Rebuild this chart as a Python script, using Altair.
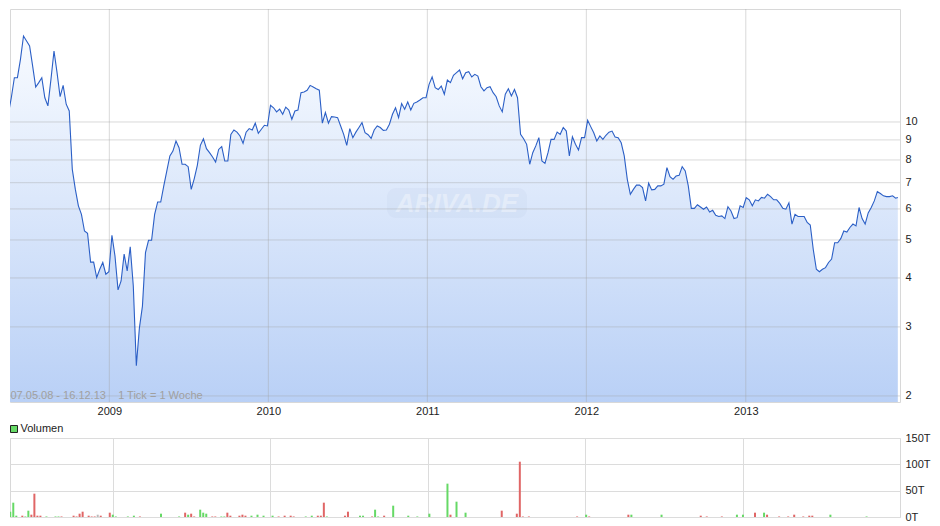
import altair as alt
import pandas as pd

# ---------------- data ----------------
prices = [
    9.39, 10.46, 11.53, 12.97, 12.97, 14.45, 16.57, 16.09, 15.63, 13.89,
    12.28, 12.60, 12.97, 11.53, 10.99, 12.84, 15.17, 13.36, 11.60, 12.40,
    11.10, 10.67, 7.57, 6.73, 6.11, 5.81, 5.27, 5.20, 4.39, 4.39,
    4.01, 4.21, 4.38, 4.09, 4.15, 5.14, 4.55, 3.73, 3.93, 4.60,
    4.17, 4.80, 3.82, 2.39, 2.98, 3.39, 4.64, 4.99, 4.99, 5.81,
    6.25, 6.25, 6.87, 7.50, 8.19, 8.43, 8.94, 8.60, 7.80, 7.80,
    7.69, 6.73, 7.17, 7.75, 8.72, 9.06, 8.55, 8.35, 8.14, 7.90,
    8.51, 8.65, 7.95,
    7.95, 9.30, 9.54, 9.42, 9.21, 8.82, 9.42, 9.62, 9.54, 9.93,
    9.36, 9.58, 9.81, 9.77, 11.03, 10.87, 10.61, 10.78, 10.46, 10.91,
    10.73, 10.16, 10.67, 10.73, 11.88, 11.93, 12.05, 12.40, 12.28, 12.15,
    12.05, 9.93, 10.57, 9.93, 10.32, 10.30, 10.26, 9.77, 9.30, 8.72,
    9.62, 9.12, 9.42, 9.68, 9.96, 9.39, 9.28, 9.08, 9.54, 9.77,
    9.68, 9.52, 9.54, 9.87, 10.46, 10.87, 10.26, 11.14, 10.78, 11.25,
    10.73, 11.16, 11.25, 11.38, 11.53, 11.53, 12.47, 13.03, 12.23, 12.10,
    12.35, 11.77, 12.79, 12.60,
    13.16, 13.36, 13.57, 12.89, 13.36, 13.44, 13.03, 13.23, 13.10, 12.30,
    12.00, 12.23, 12.30, 11.88, 11.60, 10.99, 10.61, 11.77, 12.15, 11.65,
    12.10, 11.53, 9.30, 9.06, 8.77, 7.80, 8.35, 8.69, 9.12, 7.95,
    7.84, 8.35, 9.03, 9.03, 9.42, 9.30, 9.68, 9.48, 8.19, 9.17,
    8.77, 8.48, 9.12, 9.12, 10.10, 9.73, 9.39, 8.94, 9.21, 9.03,
    9.25, 9.42, 9.48, 9.16, 9.12, 8.85, 8.19, 7.14, 6.54, 6.73,
    6.90, 6.90, 6.80, 6.29, 6.98, 6.71, 6.73, 6.87, 6.87, 6.94,
    7.65, 7.25, 7.14, 7.28,
    7.31, 7.69, 7.50, 6.87, 6.02, 6.02, 6.15, 6.07, 5.99, 6.07,
    5.89, 5.95, 5.78, 5.74, 5.76, 5.67, 6.08, 5.93, 5.67, 5.70,
    6.11, 6.05, 6.41, 6.33, 6.11, 6.33, 6.29, 6.42, 6.39, 6.54,
    6.45, 6.33, 6.33, 6.20, 6.02, 5.99, 6.22, 5.49, 5.81, 5.74,
    5.74, 5.74, 5.54, 5.46, 4.72, 4.21, 4.15, 4.21, 4.25, 4.38,
    4.47, 4.92, 4.92, 5.04, 5.27, 5.24, 5.38, 5.49, 5.43, 6.05,
    5.67, 5.49, 5.86, 6.05, 6.29, 6.64, 6.57, 6.48, 6.45, 6.45,
    6.48, 6.39, 6.42,
]
week_dates = [d.strftime("%Y-%m-%d") for d in pd.date_range("2008-05-07", periods=293, freq="7D")]
week_dates.append("2013-12-16")

# volume bars (week index, volume in thousands, direction)
vol_weeks = [0, 1, 2, 4, 5, 6, 7, 8, 9, 10, 12, 15, 16, 17, 21, 22, 23, 24, 26, 27,
             28, 29, 30, 33, 34, 35, 39, 41, 43, 50, 56, 58, 59, 60, 61, 63, 64, 65, 67, 68,
             70, 71, 72, 73, 76, 77, 78, 80, 82, 84, 87, 89, 91, 93, 94, 98, 100, 102, 103, 104,
             105, 111, 112, 116, 117, 120, 121, 122, 124, 127, 132, 135, 139, 145, 146, 148, 151,
             163, 168, 169, 170, 172, 188, 191, 192, 205, 206, 216, 229, 231, 236, 241, 243, 247,
             250, 251, 255, 258, 260, 263, 265, 266, 272, 284]
vol_values = [10.1, 27.2, 2.5, 2.5, 1, 12, 4.4, 44.3, 2.5, 2.5, 1, 1, 1, 1, 2.5, 1, 6.3, 10.1, 2.5, 1,
              1, 4.4, 2.5, 8.2, 4.4, 1, 1, 2.5, 1, 6.3, 1, 8.2, 4.4, 6.3, 1, 13.9, 8.2, 6.3, 1, 1,
              1, 1, 8.2, 2.5, 2.5, 4.4, 2.5, 2.5, 4.4, 2.5, 2.5, 1, 2.5, 2.5, 1, 1, 2.5, 2.5, 2.5, 27.2,
              1, 2.5, 10.1, 2.5, 2.5, 1, 13.9, 1, 2.5, 21.5, 2.5, 1, 6.3, 63.3, 4.4, 29.1, 8.2,
              12, 6.3, 105, 1, 1, 1, 4.4, 1, 4.4, 4.4, 4.4, 2.5, 1, 1, 4.4, 4.4, 8.2,
              8.2, 4.4, 1, 1, 4.4, 1, 2.5, 2.5, 4.4, 1]
vol_dirs = ["up", "up", "up", "down", "up", "up", "down", "down", "down", "down", "up", "up", "up", "down", "down", "down", "down", "down", "down", "down",
            "down", "flat", "down", "down", "up", "up", "up", "up", "down", "up", "up", "down", "up", "down", "down", "up", "up", "up", "down", "down",
            "up", "up", "down", "down", "down", "down", "down", "up", "up", "up", "up", "down", "down", "down", "down", "up", "up", "down", "down", "down",
            "up", "down", "down", "up", "up", "down", "up", "up", "down", "up", "up", "up", "up", "up", "down", "up", "up",
            "down", "down", "down", "down", "down", "down", "up", "down", "down", "up", "up", "down", "down", "down", "up", "up", "down",
            "up", "down", "down", "down", "down", "down", "down", "down", "up", "up"]

grid_prices = [2, 3, 4, 5, 6, 7, 8, 9, 10]
year_starts = ["2009-01-01", "2010-01-01", "2011-01-01", "2012-01-01", "2013-01-01"]
vol_ticks = [0, 50, 100, 150]
footer_text = "07.05.08 - 16.12.13\u00a0\u00a0\u00a0 1 Tick = 1 Woche"

# ---------------- tables ----------------
price_df = pd.DataFrame({"date": week_dates, "price": prices})
price_df["floor"] = 1.93
vol_df = pd.DataFrame({"date": [week_dates[w] for w in vol_weeks], "vol": vol_values, "dir": vol_dirs})
hgrid_df = pd.DataFrame({"v": grid_prices})
vgrid_df = pd.DataFrame({"t": year_starts})


def ms(s):
    return int(pd.Timestamp(s).value // 10**6)


year_ms = [ms(s) for s in year_starts]
W, H, VH = 890, 393, 79
FONT = "Liberation Sans"

xscale = alt.Scale(type="utc", domain=[ms("2008-05-18"), ms("2013-12-21")])
yscale = alt.Scale(type="log", domain=[1.93, 19.42], nice=False, zero=False)

gradient = alt.Gradient(
    gradient="linear",
    stops=[alt.GradientStop(color="#f8fbff", offset=0),
           alt.GradientStop(color="#b9d0f6", offset=1)],
    x1=0, x2=0, y1=0, y2=1,
)

base = alt.Chart(price_df)
area = base.mark_area(fill=gradient, line=False, clip=True).encode(
    x=alt.X("date:T", scale=xscale,
            axis=alt.Axis(values=year_ms, format="%Y", formatType="utc", title=None,
                          grid=False, domain=False, ticks=False, labelPadding=3,
                          labelFontSize=11, labelFont=FONT, labelColor="#222222")),
    y=alt.Y("price:Q", scale=yscale,
            axis=alt.Axis(orient="right", values=grid_prices, title=None, grid=False,
                          domain=False, ticks=False, labelPadding=5,
                          labelFontSize=11, labelFont=FONT, labelColor="#222222")),
    y2="floor:Q",
)
hgrid = alt.Chart(hgrid_df).mark_rule(color="#a0a0a0", opacity=0.4, strokeWidth=1).encode(
    y=alt.Y("v:Q", scale=yscale))
vgrid = alt.Chart(vgrid_df).mark_rule(color="#a0a0a0", opacity=0.4, strokeWidth=1).encode(
    x=alt.X("t:T", scale=xscale))
line = base.mark_line(color="#2b5fc6", strokeWidth=1.1, clip=True).encode(
    x=alt.X("date:T", scale=xscale), y=alt.Y("price:Q", scale=yscale))

wm_df = pd.DataFrame({"t": ["ARIVA.DE"]})
wm_box = alt.Chart(wm_df).mark_rect(color="#5577aa", opacity=0.045, cornerRadius=9).encode(
    x=alt.value(377), x2=alt.value(517), y=alt.value(179), y2=alt.value(209))
wm_text = alt.Chart(wm_df).mark_text(font=FONT, fontSize=26, fontWeight="bold", fontStyle="italic",
                                     color="#ffffff", opacity=0.35).encode(
    text="t:N", x=alt.value(447), y=alt.value(195))
footer = alt.Chart(pd.DataFrame({"t": [footer_text]})).mark_text(
    font=FONT, fontSize=11, color="#a0a0a0", align="left", baseline="middle").encode(
    text="t:N", x=alt.value(0.5), y=alt.value(387))

price_chart = alt.layer(area, wm_box, wm_text, hgrid, vgrid, line, footer).properties(width=W, height=H)

# ---------------- volume panel ----------------
bars = alt.Chart(vol_df).mark_bar(size=2, clip=True).encode(
    x=alt.X("date:T", scale=xscale,
            axis=alt.Axis(values=year_ms, labels=False, ticks=False, domain=False, title=None,
                          grid=True, gridColor="#dcdcdc")),
    y=alt.Y("vol:Q", scale=alt.Scale(domain=[0, 150], nice=False),
            axis=alt.Axis(orient="right", values=vol_ticks, labelExpr="datum.value + 'T'",
                          title=None, grid=True, gridColor="#dcdcdc", domain=False, ticks=False,
                          labelPadding=5, labelFontSize=11, labelFont=FONT, labelColor="#222222")),
    color=alt.Color("dir:N", scale=alt.Scale(domain=["up", "down", "flat"],
                                             range=["#66d966", "#e06666", "#bbbbbb"]), legend=None),
)
leg_df = pd.DataFrame({"t": ["Volumen"]})
leg_sq = alt.Chart(leg_df).mark_square(size=49, filled=True, color="#66d966", stroke="#222222",
                                      strokeWidth=1, opacity=1).encode(
    x=alt.value(4), y=alt.value(-9))
leg_tx = alt.Chart(leg_df).mark_text(font=FONT, fontSize=11, color="#222222", align="left",
                                    baseline="middle").encode(
    text="t:N", x=alt.value(10.5), y=alt.value(-9))
vol_chart = alt.layer(bars, leg_sq, leg_tx).properties(width=W, height=VH)

chart = alt.vconcat(price_chart, vol_chart, spacing=36, bounds="flush").properties(
    padding=0
).configure_view(stroke="#d8d8d8").configure_concat(spacing=36)

chart.save("out.html", embed_options={"renderer": "svg", "actions": False})
